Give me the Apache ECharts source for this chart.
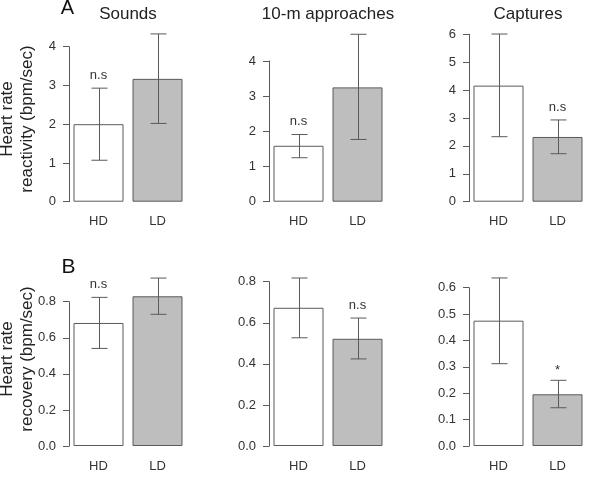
<!DOCTYPE html>
<html>
<head>
<meta charset="utf-8">
<script src="https://cdn.jsdelivr.net/npm/echarts@6/dist/echarts.min.js"></script>
<style>html,body{margin:0;padding:0;background:#fff}#c{width:600px;height:489px}</style>
</head>
<body>
<div id="c"></div>
<script>
// ---- data ----
var categories = ['HD', 'LD'];
var panelTitles = ['Sounds', '10-m approaches', 'Captures'];
var reactivityMeans = [[2.00, 3.17], [1.59, 3.25], [4.16, 2.32]];
var reactivityLow   = [[1.07, 2.02], [1.25, 1.77], [2.33, 1.72]];
var reactivityHigh  = [[2.93, 4.33], [1.91, 4.76], [6.01, 2.93]];
var reactivityMarks = [['n.s', ''], ['n.s', ''], ['', 'n.s']];
var reactivityAxisMax = [4, 4, 6];
var reactivityInterval = [1, 1, 1];
var recoveryMeans = [[0.682, 0.830], [0.673, 0.522], [0.475, 0.196]];
var recoveryLow   = [[0.541, 0.730], [0.527, 0.424], [0.312, 0.145]];
var recoveryHigh  = [[0.824, 0.931], [0.818, 0.623], [0.637, 0.249]];
var recoveryMarks = [['n.s', ''], ['', 'n.s'], ['', '*']];
var recoveryAxisMax = [0.8, 0.8, 0.6];
var recoveryInterval = [0.2, 0.2, 0.1];
var rowLetters = ['A', 'B'];
var rowYTitles = ['Heart rate\nreactivity (bpm/sec)', 'Heart rate\nrecovery (bpm/sec)'];

// ---- layout ----
var FONT = '"Liberation Sans", Arial, Helvetica, sans-serif';
var AX = '#5a5a5a';
var panelLeft = [69, 269, 469];
var panelW = 118;
var rowBottomPx = [201.7, 446];
var rowTopPx = [[46.7, 61, 34.3], [301.7, 281.7, 287.7]];
var barFill = ['#ffffff', '#bebebe'];

var rows = [
  {means: reactivityMeans, low: reactivityLow, high: reactivityHigh, marks: reactivityMarks, max: reactivityAxisMax, interval: reactivityInterval, dec: 0},
  {means: recoveryMeans, low: recoveryLow, high: recoveryHigh, marks: recoveryMarks, max: recoveryAxisMax, interval: recoveryInterval, dec: 1}
];

var grids = [], xAxes = [], yAxes = [], series = [], graphics = [];
rows.forEach(function (row, r) {
  for (var p = 0; p < 3; p++) {
    var idx = grids.length;
    var top = rowTopPx[r][p];
    grids.push({left: panelLeft[p], width: panelW, top: top, height: rowBottomPx[r] - top, outerBoundsMode: 'none', containLabel: false});
    xAxes.push({
      type: 'category', gridIndex: idx, data: categories,
      axisLine: {show: false}, axisTick: {show: false},
      axisLabel: {margin: r === 0 ? 13 : 13.5, fontSize: 13, color: '#333', fontFamily: FONT}
    });
    (function (dec) {
      yAxes.push({
        type: 'value', gridIndex: idx, min: 0, max: row.max[p], interval: row.interval[p],
        axisLine: {show: true, lineStyle: {color: AX, width: 1}},
        axisTick: {show: true, length: 6, lineStyle: {color: AX}},
        splitLine: {show: false},
        axisLabel: {margin: 13, fontSize: 13, color: '#333', fontFamily: FONT,
          formatter: function (v) { return v.toFixed(dec); }}
      });
    })(row.dec);
    series.push({
      type: 'bar', xAxisIndex: idx, yAxisIndex: idx, barWidth: 50, z: 2, clip: false,
      data: row.means[p].map(function (v, i) {
        return {value: v, itemStyle: {color: barFill[i], borderColor: AX, borderWidth: 1}};
      }),
      silent: true, animation: false
    });
    series.push({
      type: 'custom', xAxisIndex: idx, yAxisIndex: idx, clip: false, animation: false, silent: true, z: 5,
      data: row.means[p].map(function (v, i) { return [i, row.low[p][i], row.high[p][i]]; }),
      renderItem: function (params, api) {
        var lo = api.coord([api.value(0), api.value(1)]);
        var hi = api.coord([api.value(0), api.value(2)]);
        var x = Math.round(lo[0]) + 0.5, w = 8;
        var st = {stroke: AX, lineWidth: 1};
        return {type: 'group', children: [
          {type: 'line', shape: {x1: x, y1: lo[1], x2: x, y2: hi[1]}, style: st},
          {type: 'line', shape: {x1: x - w, y1: lo[1], x2: x + w, y2: lo[1]}, style: st},
          {type: 'line', shape: {x1: x - w, y1: hi[1], x2: x + w, y2: hi[1]}, style: st}
        ]};
      }
    });
    (function (marks) {
      series.push({
        type: 'custom', xAxisIndex: idx, yAxisIndex: idx, clip: false, animation: false, silent: true, z: 5,
        data: row.high[p].map(function (h, i) { return [i, h, marks[i]]; }),
        renderItem: function (params, api) {
          var txt = marks[params.dataIndex];
          if (!txt) return null;
          var c = api.coord([api.value(0), api.value(1)]);
          var isStar = txt === '*';
          return {type: 'text', x: c[0], y: c[1] - (isStar ? 10 : 13),
            style: {text: txt, textAlign: 'center', textVerticalAlign: 'middle',
              font: '13px ' + FONT, fill: '#333'}};
        }
      });
    })(row.marks[p]);
  }
});

// titles
panelTitles.forEach(function (t, p) {
  graphics.push({type: 'text', x: panelLeft[p] + panelW / 2, y: 14,
    style: {text: t, textAlign: 'center', textVerticalAlign: 'middle', font: '17px ' + FONT, fill: '#222'}});
});
// row letters
graphics.push({type: 'text', x: 67.5, y: 8.5, style: {text: rowLetters[0], textAlign: 'center', textVerticalAlign: 'middle', font: '20px ' + FONT, fill: '#111'}});
graphics.push({type: 'text', x: 68.5, y: 267.5, style: {text: rowLetters[1], textAlign: 'center', textVerticalAlign: 'middle', font: '21px ' + FONT, fill: '#111'}});
// y titles
var yTitleCenters = [119, 359];
rowYTitles.forEach(function (t, r) {
  graphics.push({type: 'text', x: 17, y: yTitleCenters[r], rotation: Math.PI / 2,
    style: {text: t, textAlign: 'center', textVerticalAlign: 'middle', font: '17px ' + FONT, lineHeight: 20, fill: '#222'}});
});

var chart = echarts.init(document.getElementById('c'), null, {renderer: 'canvas'});
chart.setOption({
  animation: false,
  backgroundColor: '#fff',
  grid: grids, xAxis: xAxes, yAxis: yAxes, series: series, graphic: graphics
});
</script>
</body>
</html>
